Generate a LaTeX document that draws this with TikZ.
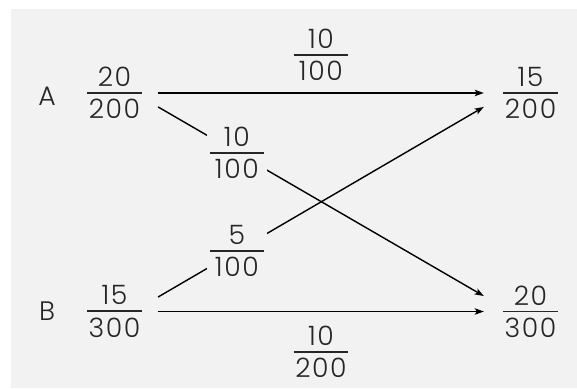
\documentclass[tikz,border=0pt]{standalone}
\usepackage{fontspec}
\usetikzlibrary{arrows.meta}
\definecolor{paper}{HTML}{F2F2F2}
% plotter-like lettering
\newfontfamily\plotfam{Poppins Light}[LetterSpace=6]
\newcommand{\plotfont}{\plotfam\fontsize{19}{19}\selectfont}
% stacked ratio with a bar
\newcommand{\ratio}[2]{\vbox{\offinterlineskip\halign{\hbox to 39pt{\hfil##\hfil}\cr #1\cr\noalign{\kern3.9pt\hrule height 1.3pt\kern3.9pt}#2\cr}}}

\begin{document}
\begin{tikzpicture}[x=0.025cm, y=-0.025cm,
	every node/.style={font=\plotfont, text=black!85},
	flow/.style={line width=1pt, -{Stealth[length=6.5pt, width=4.6pt, inset=1.6pt]}},
	lbl/.style={fill=paper, inner xsep=1.8pt, inner ysep=0pt}]
	% Background
	\fill[white] (0,0) rectangle (577,388);
	\fill[paper] (11,9) rectangle (577,388);
	% Row names
	\node (na) at (47,96) {A};
	\node (nb) at (47,311) {B};
	% Ratios at both ends
	\foreach \n/\x/\y/\t/\b in {ra/114.5/93/20/200, rb/114.5/311.5/15/300, rc/530.5/93/15/200, rd/530.5/311.5/20/300}{
		\node[inner sep=0pt] (\n) at (\x,\y) {\ratio{\t}{\b}};
	}
	% Straight flows
	\draw[flow] ([xshift=11.3pt]ra.east) -- node[pos=.5, yshift=27pt, inner sep=0pt] (tt) {\ratio{10}{100}} ([xshift=-13.5pt]rc.west);
	\draw[flow] ([xshift=11.3pt]rb.east) -- node[pos=.5, yshift=-28.7pt, inner sep=0pt] (tb) {\ratio{10}{200}} ([xshift=-13.5pt]rd.west);
	% Crossing flows
	\draw[flow] ([xshift=11.3pt, yshift=-9.9pt]ra.east) -- node[pos=.242, lbl] (ma) {\ratio{10}{100}} ([xshift=-13.5pt, yshift=11pt]rd.west);
	\draw[flow] ([xshift=11.3pt, yshift=10.3pt]rb.east) -- node[pos=.242, lbl] (mb) {\ratio{5}{100}} ([xshift=-13.5pt, yshift=-9.9pt]rc.west);
\end{tikzpicture}
\end{document}
